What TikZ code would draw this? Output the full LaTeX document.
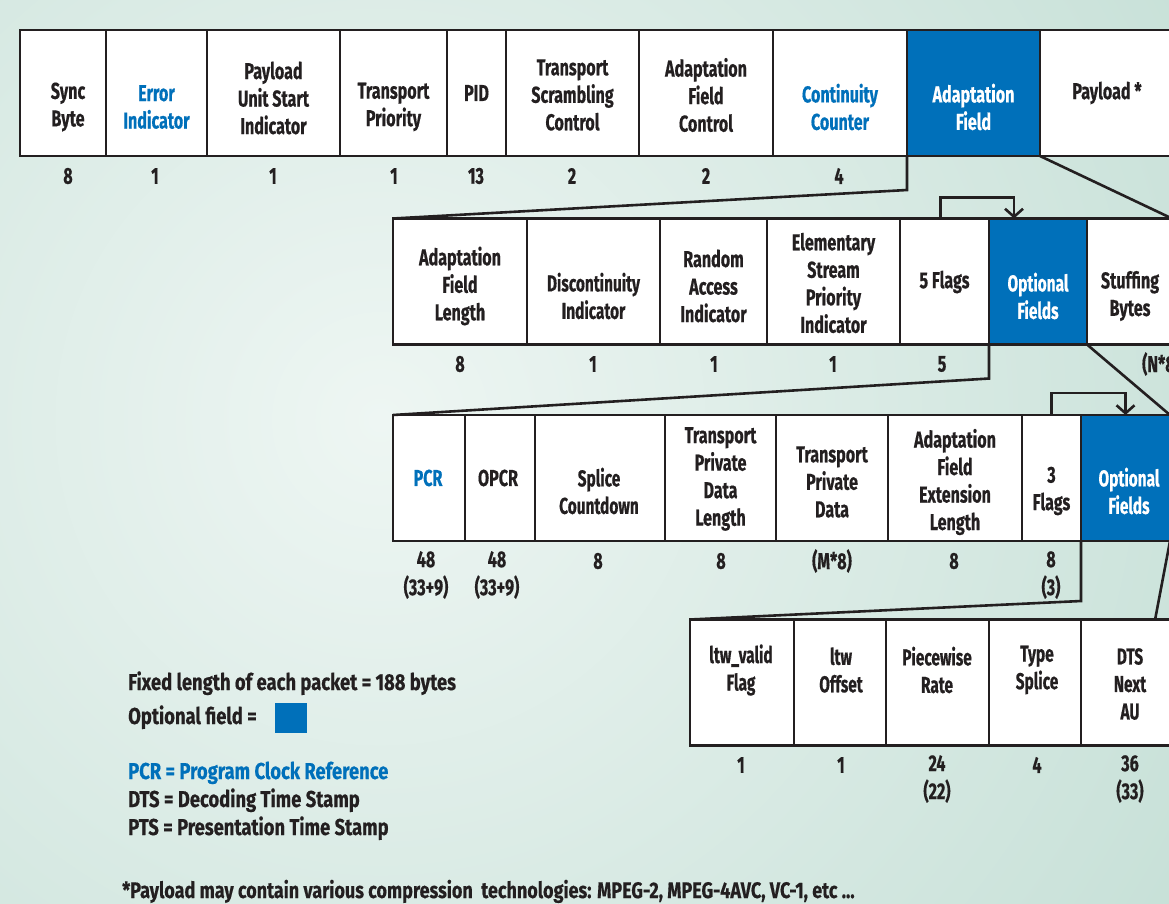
\documentclass[tikz,border=0pt]{standalone}
\usepackage{fontspec}
\setmainfont{Fira Sans}[FakeStretch=0.8, FakeBold=0.5]
\newfontfamily\labelfont{Fira Sans}[FakeStretch=0.7, FakeBold=0.5]
\newfontfamily\narrowfont{Fira Sans}[FakeStretch=0.67, FakeBold=0.5]
\usetikzlibrary{arrows.meta}
\definecolor{tsblue}{RGB}{0,112,186}
\definecolor{tsink}{RGB}{35,31,32}
\definecolor{bglight}{RGB}{238,246,243}
\definecolor{bgdark}{RGB}{184,216,205}
\tikzset{
	fld/.style={draw=tsink, line width=2.6pt, fill=white, minimum height=126, inner sep=0pt, outer sep=0pt},
	opt/.style={fld, fill=tsblue},
	lbl/.style={align=center, text=tsink, font=\labelfont\bfseries\fontsize{23}{27.5}\selectfont, inner sep=0pt},
	nlbl/.style={lbl, font=\narrowfont\bfseries\fontsize{23}{27.5}\selectfont},
	num/.style={align=center, text=tsink, font=\labelfont\bfseries\fontsize{23}{28}\selectfont, inner sep=0pt},
	legend/.style={anchor=base west, text=tsink, font=\bfseries\fontsize{23}{28}\selectfont, inner sep=0pt},
	link/.style={draw=tsink, line width=2.6pt},
	flagarrow/.style={link, -{Straight Barb[length=8pt, width=18pt, line width=2.6pt]}}
}
\begin{document}
\begin{tikzpicture}[x=1pt, y=-1pt]
	\useasboundingbox (0,0) rectangle (1169,903);
	% background
	\begin{scope}
		\clip (0,0) rectangle (1169,903);
		\shade[inner color=bglight, outer color=bgdark] (380,420) circle (1300);
	\end{scope}

	% transport packet header
	\node[fld, minimum width=86] (sync) at (63,93) {};
	\node[fld, minimum width=101] (err) at (156.5,93) {};
	\node[fld, minimum width=133] (pusi) at (273.5,93) {};
	\node[fld, minimum width=107] (tp) at (393.5,93) {};
	\node[fld, minimum width=59] (pid) at (476.5,93) {};
	\node[fld, minimum width=133] (tsc) at (572.5,93) {};
	\node[fld, minimum width=134] (afc) at (706,93) {};
	\node[fld, minimum width=134] (cc) at (840,93) {};
	\node[opt, minimum width=133] (af) at (973.5,93) {};
	\node[fld, minimum width=135] (pay) at (1107.5,93) {};

	\node[lbl] (sync-t) at (68,107) {Sync\\Byte};
	\node[lbl, text=tsblue] (err-t) at (156.5,107) {Error\\Indicator};
	\node[lbl] (pusi-t) at (273.5,98) {Payload\\Unit Start\\Indicator};
	\node[lbl] (tp-t) at (393.5,107) {Transport\\Priority};
	\node[lbl] (pid-t) at (476.5,93) {PID};
	\node[lbl] (tsc-t) at (572.5,95) {Transport\\Scrambling\\Control};
	\node[lbl] (afc-t) at (706,95) {Adaptation\\Field\\Control};
	\node[lbl, text=tsblue] (cc-t) at (840,107) {Continuity\\Counter};
	\node[lbl, text=white] (af-t) at (973.5,107) {Adaptation\\Field};
	\node[lbl] (pay-t) at (1107,93) {Payload *};

	\node[num] (sync-n) at (68,176) {8};
	\node[num] (err-n) at (155,176) {1};
	\node[num] (pusi-n) at (273,176) {1};
	\node[num] (tp-n) at (394,176) {1};
	\node[num] (pid-n) at (476,176) {13};
	\node[num] (tsc-n) at (572,176) {2};
	\node[num] (afc-n) at (706,176) {2};
	\node[num] (cc-n) at (839,176) {4};

	% adaptation field
	\node[fld, minimum width=134] (afl) at (460,281.5) {};
	\node[fld, minimum width=133] (disc) at (593.5,281.5) {};
	\node[fld, minimum width=107] (rai) at (713.5,281.5) {};
	\node[fld, minimum width=133] (espi) at (833.5,281.5) {};
	\node[fld, minimum width=89] (flags5) at (944.5,281.5) {};
	\node[opt, minimum width=98] (opt2) at (1038,281.5) {};
	\node[fld, minimum width=85] (stuff) at (1129.5,281.5) {};

	\node[lbl] (afl-t) at (460,286) {Adaptation\\Field\\Length};
	\node[nlbl] (disc-t) at (593.5,296) {Discontinuity\\Indicator};
	\node[lbl] (rai-t) at (713.5,286) {Random\\Access\\Indicator};
	\node[lbl] (espi-t) at (833.5,283) {Elementary\\Stream\\Priority\\Indicator};
	\node[lbl] (flags5-t) at (944.5,282) {5 Flags};
	\node[nlbl, text=white] (opt2-t) at (1038,296) {Optional\\Fields};
	\node[lbl] (stuff-t) at (1130,296) {Stuffing\\Bytes};

	\node[num] (afl-n) at (460,364) {8};
	\node[num] (disc-n) at (593,364) {1};
	\node[num] (rai-n) at (714,364) {1};
	\node[num] (espi-n) at (833,364) {1};
	\node[num] (flags5-n) at (942,364) {5};
	\node[num] (stuff-n) at (1161,364) {(N*8)};

	% optional fields
	\node[fld, minimum width=72] (pcr) at (429,478) {};
	\node[fld, minimum width=70] (opcr) at (500,478) {};
	\node[fld, minimum width=130] (splice) at (600,478) {};
	\node[fld, minimum width=111] (tpdl) at (720.5,478) {};
	\node[fld, minimum width=112] (tpd) at (832,478) {};
	\node[fld, minimum width=134] (afel) at (955,478) {};
	\node[fld, minimum width=59] (flags3) at (1051.5,478) {};
	\node[opt, minimum width=89] (opt3) at (1125.5,478) {};

	\node[lbl, text=tsblue] (pcr-t) at (428,478) {PCR};
	\node[lbl] (opcr-t) at (498,478) {OPCR};
	\node[nlbl] (splice-t) at (599,491) {Splice\\Countdown};
	\node[lbl] (tpdl-t) at (720.5,479) {Transport\\Private\\Data\\Length};
	\node[lbl] (tpd-t) at (832,482) {Transport\\Private\\Data};
	\node[lbl] (afel-t) at (955,482) {Adaptation\\Field\\Extension\\Length};
	\node[lbl] (flags3-t) at (1051.5,491) {3\\Flags};
	\node[nlbl, text=white] (opt3-t) at (1129,491) {Optional\\Fields};

	\node[num] (pcr-n) at (426,575) {48\\(33+9)};
	\node[num] (opcr-n) at (497,575) {48\\(33+9)};
	\node[num] (splice-n) at (598,561) {8};
	\node[num] (tpdl-n) at (721,561) {8};
	\node[num] (tpd-n) at (832,561) {(M*8)};
	\node[num] (afel-n) at (954,561) {8};
	\node[num] (flags3-n) at (1051,575) {8\\(3)};

	% extension fields
	\node[fld, minimum width=104] (ltwf) at (742,682.5) {};
	\node[fld, minimum width=92] (ltwo) at (840,682.5) {};
	\node[fld, minimum width=103] (pwr) at (937.5,682.5) {};
	\node[fld, minimum width=92] (tsp) at (1035,682.5) {};
	\node[fld, minimum width=99] (dts) at (1130.5,682.5) {};
	\coordinate (r4end) at (1155,620);

	\node[nlbl] (ltwf-t) at (741,670) {ltw\_valid\\Flag};
	\node[nlbl] (ltwo-t) at (841,670) {ltw\\Offset};
	\node[nlbl] (pwr-t) at (937,670) {Piecewise\\Rate};
	\node[nlbl] (tsp-t) at (1037,670) {Type\\Splice};
	\node[nlbl] (dts-t) at (1130,684) {DTS\\Next\\AU};

	\node[num] (ltwf-n) at (741,765) {1};
	\node[num] (ltwo-n) at (841,765) {1};
	\node[num] (pwr-n) at (937,779) {24\\(22)};
	\node[num] (tsp-n) at (1037,765) {4};
	\node[num] (dts-n) at (1130,779) {36\\(33)};

	% expansion lines
	\draw[link] (af.south west) -- ++(0,34) -- (afl.north west);
	\draw[link] (af.south east) -- (stuff.north east);
	\draw[link] (opt2.south west) -- ++(0,34) -- (pcr.north west);
	\draw[link] (opt2.south east) -- (opt3.north east);
	\draw[link] (opt3.south west) -- ++(0,60) -- (ltwf.north west);
	\draw[link] (opt3.south east) -- (r4end);

	% flag arrows
	\draw[flagarrow] ([xshift=-4]flags5.north) -- ++(0,-21) -| ([xshift=-24]opt2.north);
	\draw[flagarrow] (flags3.north) -- ++(0,-22) -| (opt3.north);

	% legend
	\node[legend] (fixed) at (128,690) {Fixed length of each packet = 188 bytes};
	\node[legend] (optkey) at (128,724) {Optional field =};
	\node[fill=tsblue, minimum width=32, minimum height=30, inner sep=0pt] (optsq) at (291,718) {};
	\node[legend, text=tsblue] (pcrkey) at (128,779) {PCR = Program Clock Reference};
	\node[legend] (dtskey) at (128,807) {DTS = Decoding Time Stamp};
	\node[legend] (ptskey) at (128,835) {PTS = Presentation Time Stamp};
	\node[legend, font=\bfseries\fontsize{22.5}{28}\selectfont] (note) at (122,898) {*Payload may contain various compression\ \ technologies: MPEG-2, MPEG-4AVC, VC-1, etc ...};
\end{tikzpicture}
\end{document}
